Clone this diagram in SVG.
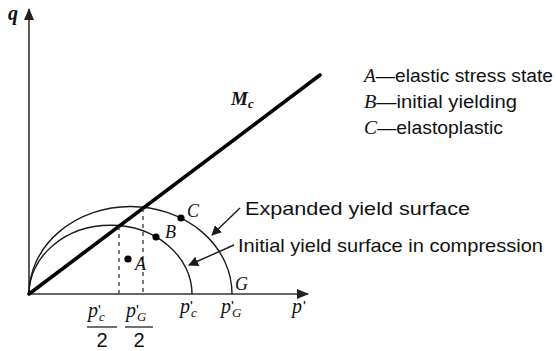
<svg xmlns="http://www.w3.org/2000/svg" width="556" height="351" viewBox="0 0 556 351">
<defs>
<style>
.ax{stroke:#333;stroke-width:1.6;fill:none}
.curve{stroke:#1a1a1a;stroke-width:1.4;fill:none}
.dash{stroke:#333;stroke-width:1.3;stroke-dasharray:4 4;fill:none}
.lead{stroke:#1a1a1a;stroke-width:1.4;fill:none}
.m{font-family:"Liberation Serif","Times New Roman",serif;font-style:italic;fill:#111}
.s{font-family:"Liberation Sans",Arial,sans-serif;fill:#111}
.pr{font-family:"Liberation Sans",Arial,sans-serif;font-style:normal}
</style>
<marker id="ah" viewBox="0 0 10 10" refX="9" refY="5" markerWidth="10" markerHeight="10" markerUnits="userSpaceOnUse" orient="auto">
<path d="M0,0 L10,5 L0,10 z" fill="#1a1a1a"/>
</marker>
<marker id="axh" viewBox="0 0 12 10" refX="11" refY="5" markerWidth="12" markerHeight="10" markerUnits="userSpaceOnUse" orient="auto">
<path d="M0,0 L12,5 L0,10 z" fill="#222"/>
</marker>
</defs>
<g id="axes">
<line class="ax" x1="29" y1="294" x2="29" y2="9" marker-end="url(#axh)"/>
<line class="ax" x1="29" y1="294" x2="308" y2="294" marker-end="url(#axh)"/>
<text class="m" x="8" y="20" font-size="20" font-weight="bold">q</text>
<text class="m" x="292" y="313" font-size="20">p<tspan class="pr" font-size="15" dx="1" dy="-2">'</tspan></text>
</g>
<g id="yield-surfaces">
<path id="initial-surface" class="curve" d="M29,294 A81.5,68.7 0 0 1 192,294"/>
<path id="expanded-surface" class="curve" d="M29,294 A101.5,87.5 0 0 1 232,294"/>
</g>
<g id="mc-line">
<line x1="29" y1="294" x2="320" y2="75" stroke="#000" stroke-width="3.6" stroke-linecap="round"/>
<text class="m" x="231" y="105" font-size="19" font-weight="bold">M<tspan font-size="13" dy="3">c</tspan></text>
</g>
<g id="connectors">
<line class="dash" x1="119" y1="226" x2="119" y2="294"/>
<line class="dash" x1="143" y1="208" x2="143" y2="294"/>
<line class="lead" x1="240" y1="208" x2="212" y2="235" marker-end="url(#ah)"/>
<line class="lead" x1="234" y1="245" x2="189" y2="265" marker-end="url(#ah)"/>
</g>
<g id="point-A">
<circle cx="128" cy="259" r="3.6" fill="#000"/>
<text class="m" x="135" y="270" font-size="18">A</text>
</g>
<g id="point-B">
<circle cx="156" cy="237" r="3.6" fill="#000"/>
<text class="m" x="165" y="238" font-size="18">B</text>
</g>
<g id="point-C">
<circle cx="181" cy="218" r="3.6" fill="#000"/>
<text class="m" x="187" y="217" font-size="18">C</text>
</g>
<g id="point-G">
<text class="m" x="235" y="290" font-size="18">G</text>
</g>
<g id="axis-labels">
<text class="m" x="180" y="313" font-size="20">p<tspan class="pr" font-size="15" dy="-2">'</tspan><tspan font-size="13" dx="-2" dy="6">c</tspan></text>
<text class="m" x="221" y="313" font-size="20">p<tspan class="pr" font-size="15" dy="-2">'</tspan><tspan font-size="13" dx="-2" dy="6">G</tspan></text>
<text class="m" x="88" y="317" font-size="20">p<tspan class="pr" font-size="15" dy="-2">'</tspan><tspan font-size="13" dx="-2" dy="6">c</tspan></text>
<line x1="87" y1="327" x2="117" y2="327" stroke="#222" stroke-width="1.3"/>
<text class="s" x="102" y="347" font-size="20" text-anchor="middle">2</text>
<text class="m" x="126" y="317" font-size="20">p<tspan class="pr" font-size="15" dy="-2">'</tspan><tspan font-size="13" dx="-2" dy="6">G</tspan></text>
<line x1="125" y1="327" x2="153" y2="327" stroke="#222" stroke-width="1.3"/>
<text class="s" x="139" y="347" font-size="20" text-anchor="middle">2</text>
</g>
<g id="surface-labels">
<text class="s" x="245" y="215" font-size="18.5" textLength="225" lengthAdjust="spacingAndGlyphs">Expanded yield surface</text>
<text class="s" x="238" y="252" font-size="18.5" textLength="305" lengthAdjust="spacingAndGlyphs">Initial yield surface in compression</text>
</g>
<g id="legend">
<text x="364" y="82" font-size="18" textLength="189" lengthAdjust="spacingAndGlyphs"><tspan class="m">A</tspan><tspan class="s">—elastic stress state</tspan></text>
<text x="364" y="108" font-size="18" textLength="153" lengthAdjust="spacingAndGlyphs"><tspan class="m">B</tspan><tspan class="s">—initial yielding</tspan></text>
<text x="364" y="134" font-size="18" textLength="139" lengthAdjust="spacingAndGlyphs"><tspan class="m">C</tspan><tspan class="s">—elastoplastic</tspan></text>
</g>
</svg>
